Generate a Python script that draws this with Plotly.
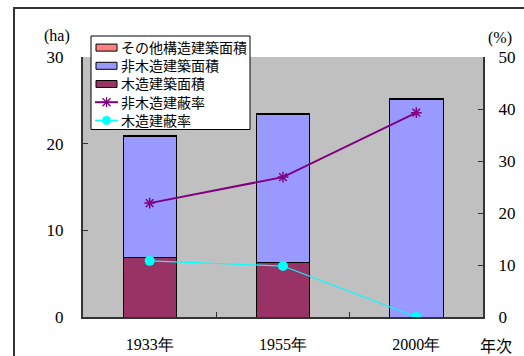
import plotly.graph_objects as go

categories = ["1933年", "1955年", "2000年"]
wood_area = [6.9, 6.3, 0.0]          # 木造建築面積 (ha)
nonwood_area = [13.9, 17.1, 25.1]    # 非木造建築面積 (ha)
other_area = [0.1, 0.1, 0.1]         # その他構造建築面積 (ha)
nonwood_rate = [21.9, 26.9, 39.3]    # 非木造建蔽率 (%)
wood_rate = [10.8, 9.8, 0.0]         # 木造建蔽率 (%)

legend_names = ["その他構造建築面積", "非木造建築面積", "木造建築面積", "非木造建蔽率", "木造建蔽率"]
COL_OTHER, COL_NONWOOD, COL_WOOD = "#FF8080", "#9999FF", "#993366"
COL_NWRATE, COL_WRATE = "#800080", "#00FFFF"

serif = "Liberation Serif"
sans = "Noto Sans CJK JP"

W, H = 524, 356
L, R, T, B = 83, 41, 57, 39


def px(x):
    return (x - L) / (W - L - R)


def py(y):
    return (H - B - y) / (H - T - B)


fig = go.Figure()
bar_line = dict(color="black", width=1)
fig.add_trace(go.Bar(x=categories, y=wood_area, name=legend_names[2],
                     marker=dict(color=COL_WOOD, line=bar_line), width=0.4))
fig.add_trace(go.Bar(x=categories, y=nonwood_area, name=legend_names[1],
                     marker=dict(color=COL_NONWOOD, line=bar_line), width=0.4))
fig.add_trace(go.Bar(x=categories, y=other_area, name=legend_names[0],
                     marker=dict(color=COL_OTHER, line=bar_line), width=0.4))
fig.add_trace(go.Scatter(x=categories, y=nonwood_rate, name=legend_names[3], yaxis="y2",
                         mode="lines+markers",
                         line=dict(color=COL_NWRATE, width=2),
                         marker=dict(symbol="asterisk-open", size=9, color=COL_NWRATE,
                                     line=dict(color=COL_NWRATE, width=1.5))))
fig.add_trace(go.Scatter(x=categories, y=wood_rate, name=legend_names[4], yaxis="y2",
                         mode="lines+markers",
                         line=dict(color=COL_WRATE, width=1.2),
                         marker=dict(symbol="circle", size=10, color=COL_WRATE)))

# ---- manual legend (box, swatches, labels) ----
LEG_FONT = 14
LINE_H = LEG_FONT * 1.3
first_row = 47.6
row_y = [first_row + i * LINE_H for i in range(len(legend_names))]

shapes = [
    dict(type="rect", xref="paper", yref="paper",
         x0=-0.1725, x1=1.3, y0=-0.5, y1=py(8),
         line=dict(color="#333", width=2), fillcolor="rgba(0,0,0,0)", layer="below"),
    dict(type="rect", xref="paper", yref="paper",
         x0=px(91), x1=px(250), y0=py(129.5), y1=py(36),
         line=dict(color="black", width=1), fillcolor="white", layer="above"),
]
swatch_cols = [COL_OTHER, COL_NONWOOD, COL_WOOD]
for i, name in enumerate(legend_names):
    yc = row_y[i]
    if i < 3:
        shapes.append(dict(type="rect", xref="paper", yref="paper",
                           x0=px(96), x1=px(117), y0=py(yc + 3.5), y1=py(yc - 3.5),
                           line=dict(color="black", width=1), fillcolor=swatch_cols[i],
                           layer="above"))
    else:
        col = COL_NWRATE if i == 3 else COL_WRATE
        shapes.append(dict(type="line", xref="paper", yref="paper",
                           x0=px(95), x1=px(118), y0=py(yc), y1=py(yc),
                           line=dict(color=col, width=2 if i == 3 else 1.5), layer="above"))
        if i == 3:
            for dx, dy in [(-4, -4), (-4, 4), (0, -5)]:
                shapes.append(dict(type="line", xref="paper", yref="paper",
                                   x0=px(106.5 + dx), x1=px(106.5 - dx),
                                   y0=py(yc + dy), y1=py(yc - dy),
                                   line=dict(color=col, width=1.3), layer="above"))
        else:
            shapes.append(dict(type="circle", xref="paper", yref="paper",
                               x0=px(102), x1=px(111), y0=py(yc + 4.5), y1=py(yc - 4.5),
                               line=dict(color=col, width=0), fillcolor=col, layer="above"))

annotations = [
    dict(text="<br>".join(legend_names), xref="paper", yref="paper",
         x=px(120), y=py((row_y[0] + row_y[-1]) / 2), xanchor="left", yanchor="middle",
         align="left", showarrow=False, borderpad=0,
         font=dict(family=sans, size=LEG_FONT, color="black")),
    dict(text="(ha)", xref="paper", yref="paper", x=px(57), y=py(36),
         xanchor="center", yanchor="middle",
         showarrow=False, font=dict(family=serif, size=16, color="black")),
    dict(text="(%)", xref="paper", yref="paper", x=px(500), y=py(38),
         xanchor="center", yanchor="middle",
         showarrow=False, font=dict(family=serif, size=16, color="black")),
    dict(text="年次", xref="paper", yref="paper", x=px(496), y=py(345),
         xanchor="center", yanchor="middle",
         showarrow=False, font=dict(family=sans, size=16, color="black")),
]

fig.update_layout(
    width=W, height=H,
    margin=dict(l=L, r=R, t=T, b=B),
    paper_bgcolor="white",
    plot_bgcolor="#C0C0C0",
    barmode="stack",
    showlegend=False,
    xaxis=dict(type="category", range=[-0.5, 2.5], showgrid=False, automargin=False,
               showline=True, linecolor="#333", linewidth=2,
               ticks="inside", tickson="boundaries", ticklen=5, tickcolor="#333",
               ticklabelstandoff=12,
               tickfont=dict(family=serif, size=16, color="black")),
    yaxis=dict(range=[0, 30], dtick=10, showgrid=False, zeroline=False, automargin=False,
               showline=True, linecolor="#333", linewidth=2,
               ticks="inside", ticklen=5, tickcolor="#333",
               ticklabelstandoff=14,
               tickfont=dict(family=serif, size=17, color="black")),
    yaxis2=dict(range=[0, 50], dtick=10, overlaying="y", side="right",
                showgrid=False, zeroline=False, automargin=False,
                showline=True, linecolor="#333", linewidth=2,
                ticks="inside", ticklen=5, tickcolor="#333",
                ticklabelstandoff=10,
                tickfont=dict(family=serif, size=17, color="black")),
    shapes=shapes,
    annotations=annotations,
)

fig.write_html("out.html")
